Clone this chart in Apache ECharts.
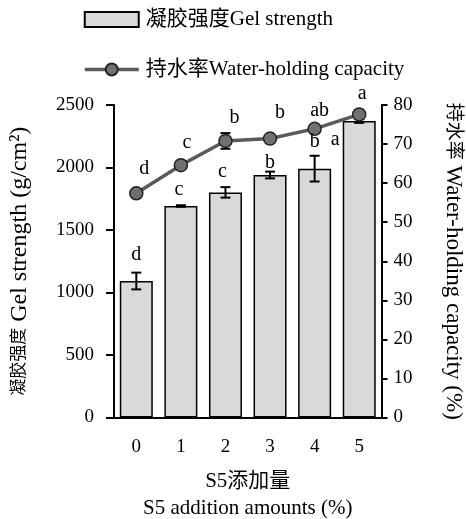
<!DOCTYPE html>
<html><head><meta charset="utf-8">
<script src="https://cdn.jsdelivr.net/npm/echarts@6/dist/echarts.min.js"></script>
<style>html,body{margin:0;padding:0;background:#fff}#c{width:466px;height:519px}</style>
</head><body><div id="c"></div>
<script>
// ---- data ----
const categories = ['0', '1', '2', '3', '4', '5'];
const gelStrength = [1092, 1692, 1801, 1940, 1991, 2372];
const gelError = [67, 6, 42, 27, 103, 15];
const gelLetters = ['d', 'c', 'c', 'b', 'b', 'a'];
const gelLetterY = [1300, 1820, 1964, 2036, 2206, 2226];
const whc = [57.4, 64.6, 70.8, 71.4, 73.9, 77.6];
const whcError = [0.8, 0.8, 2.0, 0.6, 0.8, 0.6];
const whcLetters = ['d', 'c', 'b', 'b', 'ab', 'a'];
const whcLetterY = [63.6, 70.3, 76.7, 78.0, 78.5, 83.0];
const seriesNames = ['凝胶强度Gel strength', '持水率Water-holding capacity'];
const leftAxisNameCn = '凝胶强度';
const leftAxisNameEn = ' Gel strength (g/cm²)';
const rightAxisNameCn = '持水率';
const rightAxisNameEn = ' Water-holding capacity (%)';
const xAxisName = 'S5添加量\nS5 addition amounts (%)';

// ---- styles ----
const FONT = "'Liberation Serif','Times New Roman','Noto Sans CJK SC',serif";
const gelLetterDx = [0, -2, -3, 0, 0, -24];
const whcLetterDx = [8, 6, 9, 10, 5, 3];

function errRender() {
  return function (params, api) {
    const i = api.value(0), v = api.value(1), e = api.value(2);
    const top = api.coord([i, v + e]);
    const bot = api.coord([i, v - e]);
    const hw = 5;
    const st = { stroke: '#000', lineWidth: 2 };
    return {
      type: 'group',
      children: [
        { type: 'line', shape: { x1: top[0], y1: top[1], x2: bot[0], y2: bot[1] }, style: st },
        { type: 'line', shape: { x1: top[0] - hw, y1: top[1], x2: top[0] + hw, y2: top[1] }, style: st },
        { type: 'line', shape: { x1: bot[0] - hw, y1: bot[1], x2: bot[0] + hw, y2: bot[1] }, style: st }
      ]
    };
  };
}
function letterRender(letters, dxArr) {
  return function (params, api) {
    const i = api.value(0), y = api.value(1);
    const p = api.coord([i, y]);
    return {
      type: 'text',
      x: p[0] + dxArr[params.dataIndex], y: p[1],
      style: { text: letters[params.dataIndex], fill: '#000', font: '20px ' + FONT, align: 'center', verticalAlign: 'middle' }
    };
  };
}
const plain = v => String(v);

const chart = echarts.init(document.getElementById('c'), null, { renderer: 'canvas' });
chart.setOption({
  backgroundColor: '#fff',
  animation: false,
  textStyle: { fontFamily: FONT, color: '#000' },
  legend: {
    orient: 'vertical', left: 83, top: 9, padding: 0,
    itemWidth: 54, itemHeight: 15, itemGap: 29,
    lineStyle: { width: 3.5, color: '#5a5a5a' },
    textStyle: { fontSize: 21, fontFamily: FONT, color: '#000', padding: [0, 0, 0, 2] },
    data: [{ name: seriesNames[0], icon: 'rect' }, { name: seriesNames[1] }]
  },
  grid: { left: 114, right: 84.5, top: 105, bottom: 101.5, outerBoundsMode: 'none', containLabel: false },
  xAxis: {
    type: 'category', data: categories,
    axisLine: { lineStyle: { color: '#000', width: 2 } },
    axisTick: { inside: true, length: 8, lineStyle: { color: '#000', width: 2 } },
    axisLabel: { fontSize: 19, fontFamily: FONT, color: '#000', margin: 20 },
    name: xAxisName, nameLocation: 'middle', nameGap: 50,
    nameTextStyle: { fontSize: 21, fontFamily: FONT, color: '#000', lineHeight: 27 }
  },
  yAxis: [{
    type: 'value', min: 0, max: 2500, interval: 500,
    splitLine: { show: false },
    axisLine: { show: true, lineStyle: { color: '#000', width: 2 } },
    axisTick: { show: true, length: 8, lineStyle: { color: '#000', width: 2 } },
    axisLabel: { fontSize: 19, fontFamily: FONT, color: '#000', margin: 20, formatter: plain },
    name: '{cn|' + leftAxisNameCn + '}{en|' + leftAxisNameEn + '}', nameLocation: 'middle', nameGap: 82,
    nameTextStyle: { fontFamily: FONT, color: '#000',
      rich: { cn: { fontSize: 17, fontFamily: FONT }, en: { fontSize: 24, fontFamily: FONT } } }
  }, {
    type: 'value', min: 0, max: 80, interval: 10, position: 'right',
    splitLine: { show: false },
    axisLine: { show: true, lineStyle: { color: '#000', width: 2 } },
    axisTick: { show: true, length: 6, lineStyle: { color: '#000', width: 2 } },
    axisLabel: { fontSize: 19, fontFamily: FONT, color: '#000', margin: 12, formatter: plain },
    name: '{cn|' + rightAxisNameCn + '}{en|' + rightAxisNameEn + '}', nameLocation: 'middle', nameGap: 60, nameRotate: -90,
    nameTextStyle: { fontFamily: FONT, color: '#000',
      rich: { cn: { fontSize: 19, fontFamily: FONT }, en: { fontSize: 23, fontFamily: FONT } } }
  }],
  series: [{
    name: seriesNames[0], type: 'bar', data: gelStrength, barWidth: 33,
    itemStyle: { color: '#d9d9d9', borderColor: '#000', borderWidth: 1.5 }, z: 2
  }, {
    type: 'custom', yAxisIndex: 0, z: 3,
    data: gelStrength.map((v, i) => [i, v, gelError[i]]),
    renderItem: errRender()
  }, {
    type: 'custom', yAxisIndex: 1, z: 3,
    data: whc.map((v, i) => [i, v, whcError[i]]),
    renderItem: errRender()
  }, {
    name: seriesNames[1], type: 'line', yAxisIndex: 1, data: whc, z: 8,
    symbol: 'circle', symbolSize: 13,
    lineStyle: { color: '#5a5a5a', width: 3.5 },
    itemStyle: { color: '#707070', borderColor: '#222', borderWidth: 1.5 }
  }, {
    type: 'custom', yAxisIndex: 0, z: 9, clip: false,
    data: gelLetterY.map((v, i) => [i, v]),
    renderItem: letterRender(gelLetters, gelLetterDx)
  }, {
    type: 'custom', yAxisIndex: 1, z: 9, clip: false,
    data: whcLetterY.map((v, i) => [i, v]),
    renderItem: letterRender(whcLetters, whcLetterDx)
  }]
});
</script></body></html>
